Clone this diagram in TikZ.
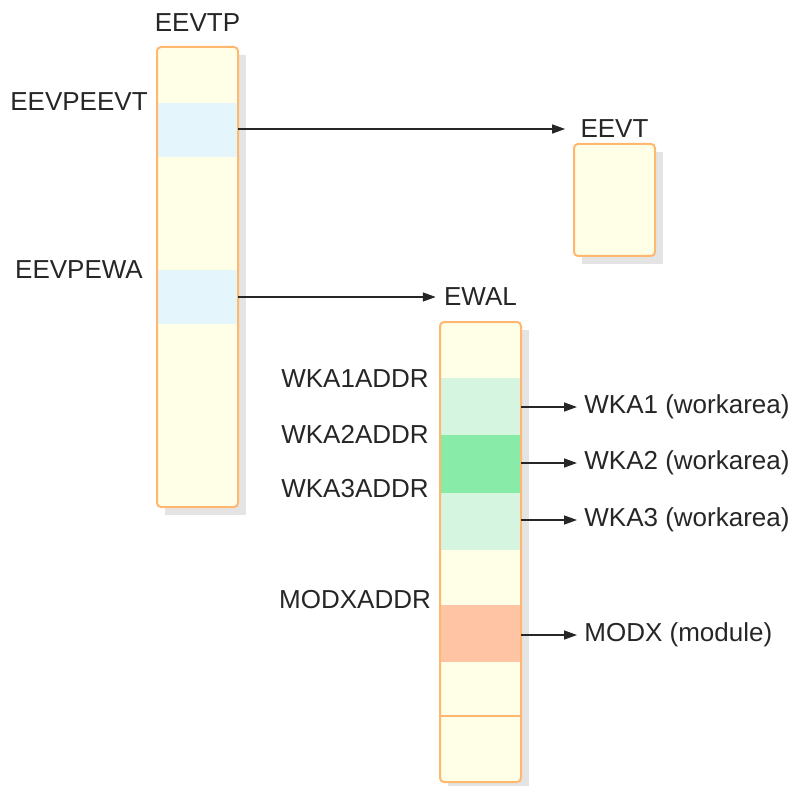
\documentclass[tikz,border=0pt]{standalone}
\usepackage{fontspec}
\setmainfont{Liberation Sans}
\usepackage{tikz}
\usetikzlibrary{arrows.meta}
\definecolor{boxfill}{RGB}{255,255,232}
\definecolor{boxline}{RGB}{255,184,110}
\definecolor{bandblue}{RGB}{228,245,252}
\definecolor{bandpale}{RGB}{214,245,224}
\definecolor{bandgreen}{RGB}{136,235,168}
\definecolor{bandsalmon}{RGB}{255,196,163}
\definecolor{shadowgray}{RGB}{228,228,228}

\begin{document}
\begin{tikzpicture}[x=0.5pt,y=-0.5pt,
  lbl/.style={inner sep=0pt,text=black!85,font=\fontsize{13}{15}\selectfont},
  link/.style={line width=0.7pt,black!85,-{Triangle[length=6.5pt,width=4.5pt]}}]
\useasboundingbox (0,0) rectangle (795,785);
% shadows
\fill[shadowgray](165,55)rectangle(246,515);
\fill[shadowgray](582,152)rectangle(663,264);
\fill[shadowgray](448,330)rectangle(529,790);
% EEVTP block
\fill[boxfill][rounded corners=2pt](157,47)rectangle(238,507);
\fill[bandblue](158,103)rectangle(237,157);
\fill[bandblue](158,270)rectangle(237,324);
\draw[boxline][line width=1pt,rounded corners=2pt](157,47)rectangle(238,507);
% EEVT block
\draw[boxline][fill=boxfill,line width=1pt,rounded corners=2pt](574,144)rectangle(655,256);
% EWAL block
\fill[boxfill][rounded corners=2pt](440,322)rectangle(521,782);
\fill[bandpale](441,378)rectangle(520,435);
\fill[bandgreen](441,435)rectangle(520,493);
\fill[bandpale](441,493)rectangle(520,550);
\fill[bandsalmon](441,605)rectangle(520,662);
\draw[boxline][line width=1pt](440,716)--(521,716);
\draw[boxline][line width=1pt,rounded corners=2pt](440,322)rectangle(521,782);
% labels
\node (eevtp) at (197.5,23) [lbl]{EEVTP};
\node (eevt) at (614.5,129) [lbl]{EEVT};
\node (ewal) at (480.5,297) [lbl]{EWAL};
\node (peevt) at (79,102) [lbl]{EEVPEEVT};
\node (pewa) at (79,270) [lbl]{EEVPEWA};
\node (a1) at (355,379) [lbl]{WKA1ADDR};
\node (a2) at (355,434) [lbl]{WKA2ADDR};
\node (a3) at (355,489) [lbl]{WKA3ADDR};
\node (am) at (355,600) [lbl]{MODXADDR};
\node (wka1) at (584,407) [lbl,anchor=west]{WKA1 (workarea)};
\node (wka2) at (584,463) [lbl,anchor=west]{WKA2 (workarea)};
\node (wka3) at (584,520) [lbl,anchor=west]{WKA3 (workarea)};
\node (modx) at (584,635) [lbl,anchor=west]{MODX (module)};
% pointer sources
\coordinate (s1) at (238,129);
\coordinate (s2) at (238,297);
\coordinate (s3) at (521,407);
\coordinate (s4) at (521,463);
\coordinate (s5) at (521,520);
\coordinate (s6) at (521,635);
\draw[link][shorten >=7.5pt](s1)--(eevt.west);
\draw[link][shorten >=4pt](s2)--(ewal.west);
\draw[link][shorten >=3.5pt](s3)--(wka1.west);
\draw[link][shorten >=3.5pt](s4)--(wka2.west);
\draw[link][shorten >=3.5pt](s5)--(wka3.west);
\draw[link][shorten >=3.5pt](s6)--(modx.west);
\end{tikzpicture}
\end{document}
